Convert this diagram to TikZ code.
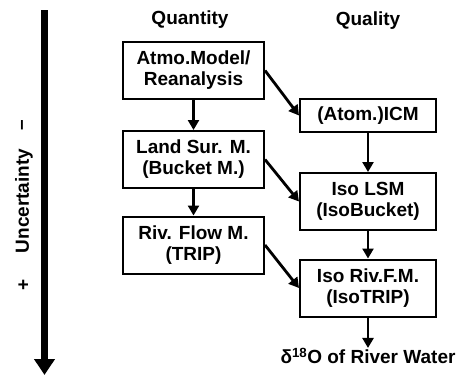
\documentclass[tikz,border=0pt]{standalone}
\usepackage{fontspec}
\setmainfont{Liberation Sans}
\usetikzlibrary{arrows.meta,positioning}
\begin{document}
\begin{tikzpicture}[x=1pt,y=-1pt,
  txt/.style={font=\fontsize{19}{21}\selectfont\bfseries,inner sep=0pt},
  mbox/.style={txt,draw,line width=2pt,align=center,minimum width=141pt,minimum height=57pt},
  ibox/.style={mbox,minimum width=136pt},
  flow/.style={-{Triangle[length=10pt,width=11pt]},line width=2.8pt}]
\useasboundingbox (0,0) rectangle (463,376);
\coordinate (utop) at (44.5,10);
\coordinate (ubot) at (44.5,375);
\draw[line width=6.5pt,-{Triangle[length=16pt,width=20pt]}] (utop)--(ubot);
\node[txt,rotate=90] (minus) at (24,125) {--};
\node[txt,rotate=90] (unc) at (24,201) {Uncertainty};
\node[txt,rotate=90] (plus) at (24,285) {+};
\node[txt] (quan) at (190,20) {Quantity};
\node[txt] (qual) at (368,21) {Quality};
\node[mbox] (atmo) at (193.5,70.5) {Atmo.Model/\\Reanalysis};
\node[mbox] (land) at (193.5,159.5) {Land Sur. M.\\(Bucket M.)};
\node[mbox] (riv) at (193.5,245) {Riv. Flow M.\\(TRIP)};
\node[ibox,minimum height=33pt] (icm) at (368,115.5) {(Atom.)ICM};
\node[ibox] (isolsm) at (368,201.5) {Iso LSM\\(IsoBucket)};
\node[ibox] (isoriv) at (368,288) {Iso Riv.F.M.\\(IsoTRIP)};
\node[txt] (delta) at (368,356) {δ\textsuperscript{18}O of River Water};
\draw[flow] (atmo)--(land);
\draw[flow] (land)--(riv);
\draw[flow] (icm)--(isolsm);
\draw[flow] (isolsm)--(isoriv);
\draw[flow] (isoriv)--(delta);
\draw[flow] (atmo.east)--(icm.west);
\draw[flow] (land.east)--(isolsm.west);
\draw[flow] (riv.east)--(isoriv.west);
\end{tikzpicture}
\end{document}
